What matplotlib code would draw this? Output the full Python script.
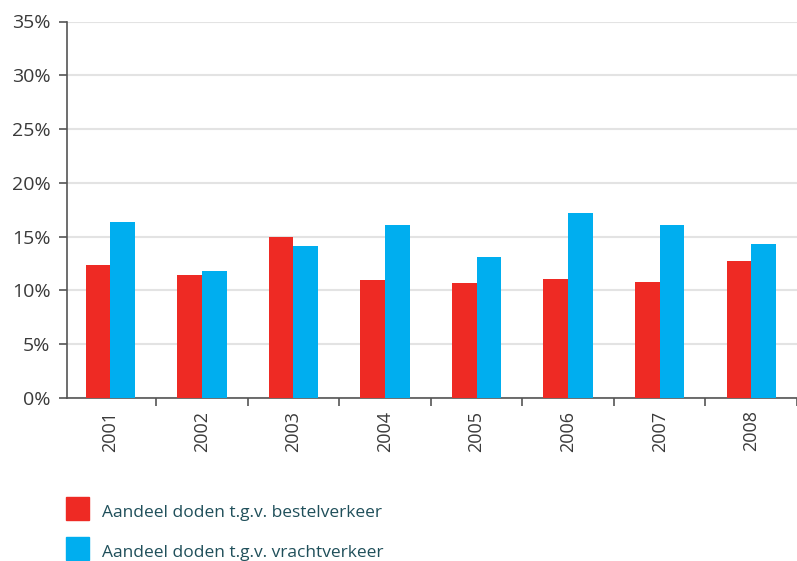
import numpy as np
import matplotlib
matplotlib.use("Agg")
from matplotlib import pyplot as plt
from matplotlib.patches import Rectangle

plt.rcParams['font.family'] = ['Open Sans', 'DejaVu Sans']

# data
jaren = ['2001', '2002', '2003', '2004', '2005', '2006', '2007', '2008']
bestel = [12.4, 11.4, 15.0, 11.0, 10.65, 11.1, 10.8, 12.7]
vracht = [16.4, 11.85, 14.1, 16.1, 13.1, 17.2, 16.1, 14.3]
labels = ['Aandeel doden t.g.v. bestelverkeer', 'Aandeel doden t.g.v. vrachtverkeer']
kleuren = ['#EE2A24', '#00AEEF']

W, H = 797, 561
fig = plt.figure(figsize=(W / 100, H / 100), dpi=100)
ax = fig.add_axes([67 / W, 1 - 398 / H, 1 - 67 / W, (398 - 21.5) / H])

x = np.arange(len(jaren))
w = 0.27
ax.bar(x - w / 2, bestel, width=w, color=kleuren[0], zorder=3)
ax.bar(x + w / 2, vracht, width=w, color=kleuren[1], zorder=3)

# category width ~92.7 px, first boundary just left of the spine
ax.set_ylim(0, 35)
ax.set_xlim(-0.5 + 2.4 / 92.7, -0.5 + (797 - 64.6) / 92.7)
ax.set_yticks(np.arange(0, 36, 5))
ax.set_yticklabels([f'{v}%' for v in range(0, 36, 5)], fontsize=14, color='#3a3a3a')
ax.yaxis.grid(True, color='#e3e3e3', linewidth=1.5, zorder=0)

ax.set_xticks(x)
ax.set_xticklabels(jaren, rotation=90, fontsize=13, color='#3a3a3a', va='top')
ax.set_xticks(np.arange(0.5, 8, 1), minor=True)
ax.tick_params(axis='x', which='major', length=0, pad=9)
ax.tick_params(axis='x', which='minor', length=6, width=1.2, color='#555555', direction='out')
ax.tick_params(axis='y', length=6, width=1.2, color='#555555', pad=6)

for s in ['top', 'right']:
    ax.spines[s].set_visible(False)
for s in ['left', 'bottom']:
    ax.spines[s].set_color('#555555')
    ax.spines[s].set_linewidth(1.2)

# legend
for i, (lab, kl) in enumerate(zip(labels, kleuren)):
    y0 = 497 + i * 40
    fig.patches.append(Rectangle((66 / W, 1 - (y0 + 23) / H), 23 / W, 23 / H,
                                 transform=fig.transFigure, color=kl, figure=fig))
    fig.text(102 / W, 1 - (y0 + 16) / H, lab, fontsize=12.5, color='#1f4f5a', va='center')

plt.savefig('out.png', dpi=100)
